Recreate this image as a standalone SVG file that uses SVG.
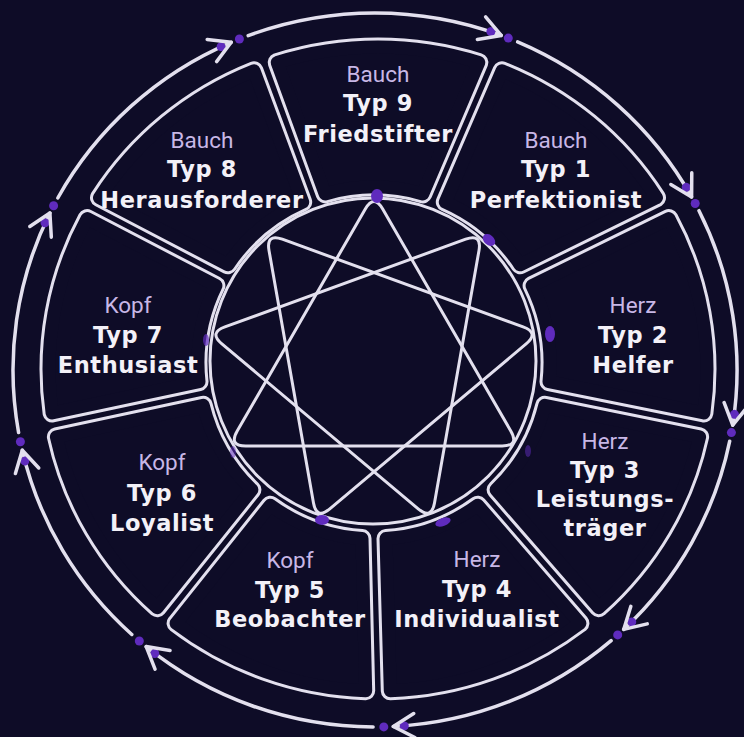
<svg xmlns="http://www.w3.org/2000/svg" xmlns:xlink="http://www.w3.org/1999/xlink" width="744" height="737" viewBox="0 0 744 737">
<style>
.bg{fill:#0e0c27}
.cw{fill:#e3e0ee;stroke:#e3e0ee;stroke-width:19;stroke-linejoin:round}
.cd{fill:#0e0c27;stroke:#0e0c27;stroke-width:13;stroke-linejoin:round}
.ln{fill:none;stroke:#e3e0ee;stroke-width:3;stroke-linecap:round;stroke-linejoin:round}
.ring{fill:none;stroke:#e3e0ee;stroke-width:3.5;stroke-linecap:round;marker-end:url(#ah)}
.dot{fill:#5f2bbd}
.lab{font-family:Roboto,"Liberation Sans",sans-serif;font-size:22.5px;fill:#c8b7e6;text-anchor:middle}
.typ{font-family:"DejaVu Sans","Liberation Sans",sans-serif;font-weight:700;font-size:22.5px;letter-spacing:0.6px;fill:#f3f1f8;text-anchor:middle}
</style>
<defs>
<marker id="ah" markerUnits="userSpaceOnUse" markerWidth="40" markerHeight="40" viewBox="-30 -20 40 40" refX="0" refY="0" orient="auto" overflow="visible">
<circle cx="-11" cy="0" r="4.5" fill="#5f2bbd"/>
<path d="M-21,-12 L0,0 L-21,12" fill="none" stroke="#e3e0ee" stroke-width="3.5" stroke-linecap="round" stroke-linejoin="round"/>
</marker>
<path id="c9" d="M325.2,193.9 L277.2,62.5 A329,322 0 0 1 478.8,62.5 L422.8,193.9 A176,176 0 0 0 325.2,193.9 Z"/>
<path id="c1" d="M445.3,202.1 L502.0,70.8 A329,322 0 0 1 656.5,197.7 L520.1,264.8 A176,176 0 0 0 445.3,202.1 Z"/>
<path id="c2" d="M532.1,285.6 L668.9,218.6 A329,322 0 0 1 703.9,413.0 L549.0,381.7 A176,176 0 0 0 532.1,285.6 Z"/>
<path id="c3" d="M544.8,405.3 L699.6,436.8 A329,322 0 0 1 598.8,607.7 L496.1,489.8 A176,176 0 0 0 544.8,405.3 Z"/>
<path id="c4" d="M477.7,505.2 L579.9,623.3 A329,322 0 0 1 390.3,690.8 L386.0,538.6 A176,176 0 0 0 477.7,505.2 Z"/>
<path id="c5" d="M362.0,538.6 L365.7,690.8 A329,322 0 0 1 176.1,623.3 L270.3,505.2 A176,176 0 0 0 362.0,538.6 Z"/>
<path id="c6" d="M251.9,489.8 L157.2,607.7 A329,322 0 0 1 56.4,436.8 L203.2,405.3 A176,176 0 0 0 251.9,489.8 Z"/>
<path id="c7" d="M199.0,381.7 L52.1,413.0 A329,322 0 0 1 87.1,218.6 L215.9,285.6 A176,176 0 0 0 199.0,381.7 Z"/>
<path id="c8" d="M227.9,264.8 L99.5,197.7 A329,322 0 0 1 254.0,70.8 L302.7,202.1 A176,176 0 0 0 227.9,264.8 Z"/>
</defs>
<rect class="bg" x="0" y="0" width="744" height="737"/>

<g id="typ9"><use href="#c9" class="cw"/><use href="#c9" class="cd"/>
<text class="lab" x="378" y="82">Bauch</text><text class="typ" x="378" y="111">Typ 9</text><text class="typ" x="378" y="142">Friedstifter</text></g>
<g id="typ1"><use href="#c1" class="cw"/><use href="#c1" class="cd"/>
<text class="lab" x="556" y="148">Bauch</text><text class="typ" x="556" y="177">Typ 1</text><text class="typ" x="556" y="208">Perfektionist</text></g>
<g id="typ2"><use href="#c2" class="cw"/><use href="#c2" class="cd"/>
<text class="lab" x="633" y="313">Herz</text><text class="typ" x="633" y="343">Typ 2</text><text class="typ" x="633" y="373">Helfer</text></g>
<g id="typ3"><use href="#c3" class="cw"/><use href="#c3" class="cd"/>
<text class="lab" x="605" y="449">Herz</text><text class="typ" x="605" y="478">Typ 3</text><text class="typ" x="605" y="507">Leistungs-</text><text class="typ" x="605" y="536">träger</text></g>
<g id="typ4"><use href="#c4" class="cw"/><use href="#c4" class="cd"/>
<text class="lab" x="477" y="567">Herz</text><text class="typ" x="477" y="597">Typ 4</text><text class="typ" x="477" y="627">Individualist</text></g>
<g id="typ5"><use href="#c5" class="cw"/><use href="#c5" class="cd"/>
<text class="lab" x="290" y="568">Kopf</text><text class="typ" x="290" y="598">Typ 5</text><text class="typ" x="290" y="627">Beobachter</text></g>
<g id="typ6"><use href="#c6" class="cw"/><use href="#c6" class="cd"/>
<text class="lab" x="162" y="470">Kopf</text><text class="typ" x="162" y="501">Typ 6</text><text class="typ" x="162" y="531">Loyalist</text></g>
<g id="typ7"><use href="#c7" class="cw"/><use href="#c7" class="cd"/>
<text class="lab" x="128" y="313">Kopf</text><text class="typ" x="128" y="343">Typ 7</text><text class="typ" x="128" y="373">Enthusiast</text></g>
<g id="typ8"><use href="#c8" class="cw"/><use href="#c8" class="cd"/>
<text class="lab" x="202" y="148">Bauch</text><text class="typ" x="202" y="177">Typ 8</text><text class="typ" x="202" y="208">Herausforderer</text></g>

<g id="enneagram">
<circle class="ln" cx="373" cy="361" r="163"/>
<path class="ln" d="M382.7,209.0 L510.8,431.0 Q519.5,446 502.2,446 L245.8,446 Q228.5,446 237.2,431.0 L365.3,209.0 Q374,194 382.7,209.0 Z"/>
<path class="ln" d="M282.3,239.2 L523.1,326.9 Q539.4,332.8 526.1,343.9 L329.8,508.8 Q316.5,519.9 313.5,502.9 L269.0,250.4 Q266.0,233.3 282.3,239.2 Z"/>
<path class="ln" d="M479.0,250.4 L434.5,502.9 Q431.5,519.9 418.2,508.8 L221.9,343.9 Q208.6,332.8 224.9,326.9 L465.7,239.2 Q482.0,233.3 479.0,250.4 Z"/>
<ellipse class="dot" cx="377" cy="196" rx="6" ry="7"/>
<ellipse class="dot" cx="489" cy="240" rx="7" ry="5" transform="rotate(40 489 240)"/>
<ellipse class="dot" cx="550" cy="334" rx="5" ry="8"/>
<ellipse class="dot" cx="206" cy="340" rx="3" ry="6" opacity="0.7"/>
<ellipse class="dot" cx="233" cy="452" rx="3" ry="6" opacity="0.5"/>
<ellipse class="dot" cx="322" cy="520" rx="7" ry="5"/>
<ellipse class="dot" cx="443" cy="522" rx="8" ry="4" transform="rotate(-20 443 522)"/>
<ellipse class="dot" cx="528" cy="451" rx="3" ry="6" opacity="0.5"/>
</g>

<g id="connectors">
<path class="ring" d="M248.2,35.6 A362,357 0 0 1 501.2,35.4"/>
<path class="ring" d="M517.6,41.9 A362,357 0 0 1 691.6,196.9"/>
<path class="ring" d="M699.0,210.7 A362,357 0 0 1 732.7,425.2"/>
<path class="ring" d="M729.7,441.2 A362,357 0 0 1 623.7,629.4"/>
<path class="ring" d="M611.1,640.6 A362,357 0 0 1 393.3,726.5"/>
<path class="ring" d="M373.1,727.0 A362,357 0 0 1 146.2,646.6"/>
<path class="ring" d="M131.8,634.5 A362,357 0 0 1 22.3,450.3"/>
<path class="ring" d="M18.6,432.6 A362,357 0 0 1 49.9,213.0"/>
<path class="ring" d="M57.8,198.0 A362,357 0 0 1 231.2,42.3"/>
<circle class="dot" cx="508.3" cy="38.1" r="4.5"/>
<circle class="dot" cx="695.2" cy="203.5" r="4.5"/>
<circle class="dot" cx="731.4" cy="432.6" r="4.5"/>
<circle class="dot" cx="617.7" cy="634.9" r="4.5"/>
<circle class="dot" cx="383.8" cy="726.9" r="4.5"/>
<circle class="dot" cx="139.3" cy="641.0" r="4.5"/>
<circle class="dot" cx="20.4" cy="441.8" r="4.5"/>
<circle class="dot" cx="53.6" cy="205.7" r="4.5"/>
<circle class="dot" cx="239.4" cy="39.0" r="4.5"/>
</g>
</svg>
